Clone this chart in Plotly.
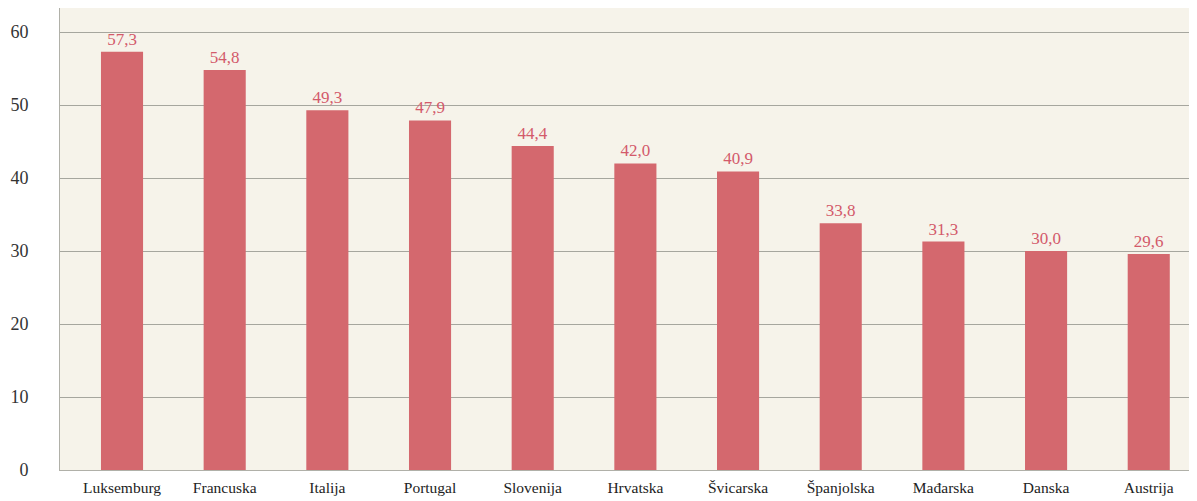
import plotly.graph_objects as go

countries = ["Luksemburg", "Francuska", "Italija", "Portugal", "Slovenija", "Hrvatska",
             "Švicarska", "Španjolska", "Mađarska", "Danska", "Austrija"]
values = [57.3, 54.8, 49.3, 47.9, 44.4, 42.0, 40.9, 33.8, 31.3, 30.0, 29.6]
y_ticks = [0, 10, 20, 30, 40, 50, 60]

labels = [f"{v:.1f}".replace(".", ",") for v in values]
SERIF = "Liberation Serif"

fig = go.Figure(go.Bar(
    x=countries, y=values, text=labels, textposition="outside",
    textfont=dict(family=SERIF, size=17, color="#d35a6a"),
    marker=dict(color="#d4686e", line=dict(width=0)),
    cliponaxis=False,
))

fig.update_layout(
    width=1189, height=493,
    margin=dict(l=52, r=0, t=0, b=31, autoexpand=False),
    paper_bgcolor="#ffffff",
    plot_bgcolor="#f6f3ea",
    bargap=0.59,
    showlegend=False,
    font=dict(family=SERIF, color="#333333"),
    xaxis=dict(showline=True, linecolor="#b0b0a8", tickfont=dict(family=SERIF, size=15.5, color="#222"),
               ticks="", showgrid=False, mirror=True, range=[-0.604, 10.47],
               ticklabelstandoff=3),
    yaxis=dict(range=[0, 63.3], tickvals=y_ticks, showgrid=True, gridcolor="#a6a69e",
               gridwidth=1.4, zeroline=False, showline=True, linecolor="#b0b0a8", mirror=True,
               tickfont=dict(family=SERIF, size=18, color="#333"), ticks="", ticklabelstandoff=27),
)

fig.write_html("out.html")
